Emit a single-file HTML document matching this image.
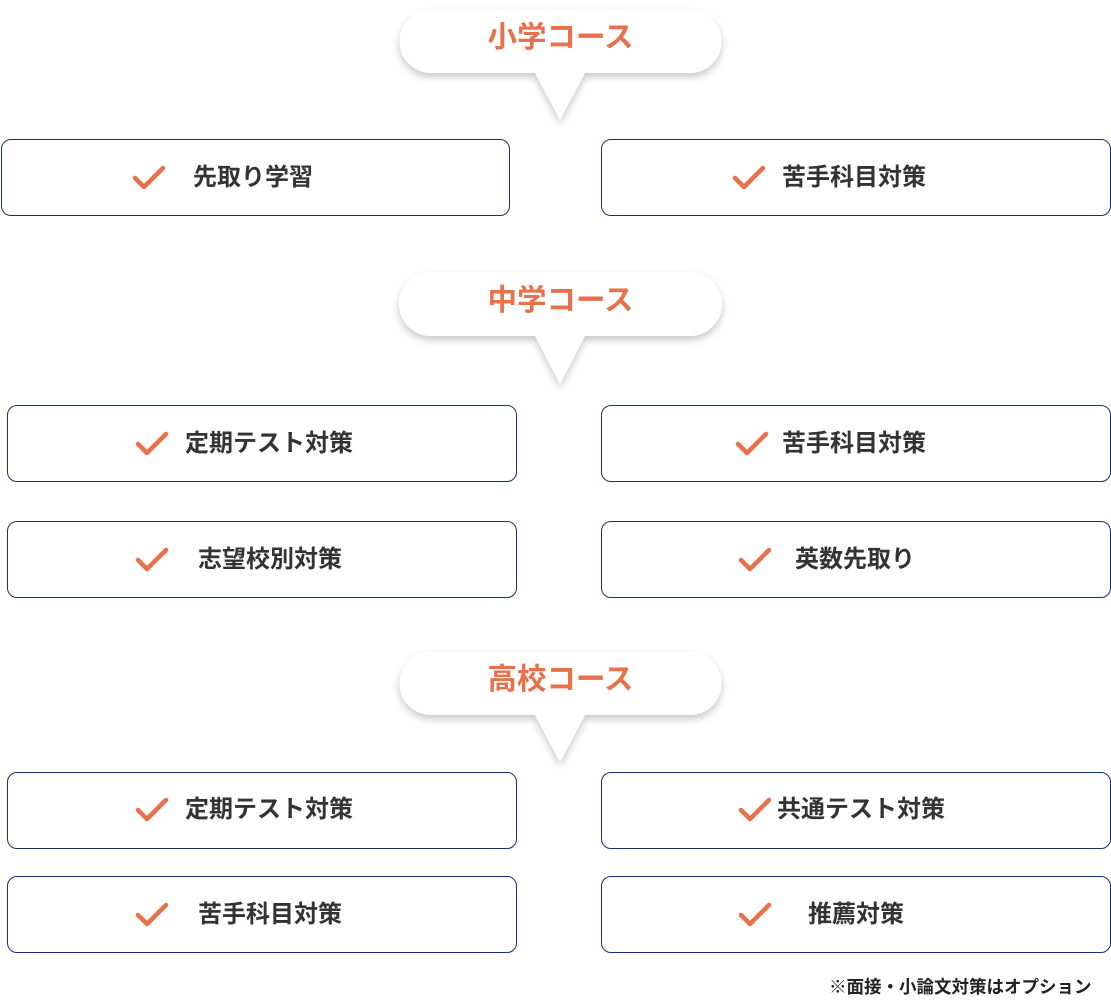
<!DOCTYPE html>
<html><head><meta charset="utf-8"><style>
body{margin:0;width:1111px;height:1001px;background:#fff;position:relative;overflow:hidden;font-family:"Liberation Sans","Noto Sans CJK JP",sans-serif;}
.b{position:absolute;border:1.3px solid #1c2f73;border-radius:10px;box-sizing:border-box;height:77px;}
.t{position:absolute;font-size:24px;font-weight:bold;color:#333;line-height:30px;white-space:nowrap;}
.c{position:absolute;width:36px;height:28px;}
.h{position:absolute;left:401px;width:319px;text-align:center;font-size:29.5px;font-weight:bold;color:#e8704a;line-height:40px;}
</style></head><body>
<svg width="0" height="0" style="position:absolute"><defs>
<filter id="sh" x="-20%" y="-20%" width="140%" height="160%"><feDropShadow dx="0" dy="4" stdDeviation="4" flood-color="#000" flood-opacity="0.22"/></filter>
<symbol id="ck" viewBox="0 0 36 28"><polyline points="4,14 13,23 32,4" fill="none" stroke="#e8704a" stroke-width="4.5" stroke-linecap="round" stroke-linejoin="round"/></symbol>
</defs></svg>

<svg style="position:absolute;left:390px;top:0" width="340" height="130"><path filter="url(#sh)" d="M41,10 H300 A31,31 0 0 1 300,73 H195 L170,120 L145,73 H41 A31,31 0 0 1 41,10 Z" fill="#fff"/></svg>
<div class="h" style="top:18px">小学コース</div>
<svg style="position:absolute;left:390px;top:262px" width="340" height="130"><path filter="url(#sh)" d="M41,10 H300 A32,32 0 0 1 300,74 H195 L170,122 L145,74 H41 A32,32 0 0 1 41,10 Z" fill="#fff"/></svg>
<div class="h" style="top:281px">中学コース</div>
<svg style="position:absolute;left:390px;top:642px" width="340" height="130"><path filter="url(#sh)" d="M41,10 H300 A31,31 0 0 1 300,73 H195 L170,120 L145,73 H41 A31,31 0 0 1 41,10 Z" fill="#fff"/></svg>
<div class="h" style="top:660px">高校コース</div>

<div class="b" style="left:1px;top:139px;width:509px"></div>
<svg class="c" style="left:131px;top:164px"><use href="#ck"/></svg><div class="t" style="left:193px;top:163px">先取り学習</div>
<div class="b" style="left:601px;top:139px;width:510px"></div>
<svg class="c" style="left:731px;top:164px"><use href="#ck"/></svg><div class="t" style="left:782px;top:163px">苦手科目対策</div>

<div class="b" style="left:7px;top:405px;width:510px"></div>
<svg class="c" style="left:134px;top:430px"><use href="#ck"/></svg><div class="t" style="left:185px;top:429px">定期テスト対策</div>
<div class="b" style="left:601px;top:405px;width:510px"></div>
<svg class="c" style="left:734px;top:430px"><use href="#ck"/></svg><div class="t" style="left:782px;top:429px">苦手科目対策</div>
<div class="b" style="left:7px;top:521px;width:510px"></div>
<svg class="c" style="left:134px;top:546px"><use href="#ck"/></svg><div class="t" style="left:198px;top:545px">志望校別対策</div>
<div class="b" style="left:601px;top:521px;width:510px"></div>
<svg class="c" style="left:737px;top:546px"><use href="#ck"/></svg><div class="t" style="left:795px;top:545px">英数先取り</div>

<div class="b" style="left:7px;top:772px;width:510px"></div>
<svg class="c" style="left:134px;top:796px"><use href="#ck"/></svg><div class="t" style="left:185px;top:795px">定期テスト対策</div>
<div class="b" style="left:601px;top:772px;width:510px"></div>
<svg class="c" style="left:737px;top:796px"><use href="#ck"/></svg><div class="t" style="left:777px;top:795px">共通テスト対策</div>
<div class="b" style="left:7px;top:876px;width:510px"></div>
<svg class="c" style="left:134px;top:901px"><use href="#ck"/></svg><div class="t" style="left:198px;top:900px">苦手科目対策</div>
<div class="b" style="left:601px;top:876px;width:510px"></div>
<svg class="c" style="left:737px;top:901px"><use href="#ck"/></svg><div class="t" style="left:808px;top:900px">推薦対策</div>

<div style="position:absolute;left:829px;top:975px;font-size:17.5px;font-weight:bold;color:#222;line-height:24px;white-space:nowrap">※面接・小論文対策はオプション</div>
</body></html>
